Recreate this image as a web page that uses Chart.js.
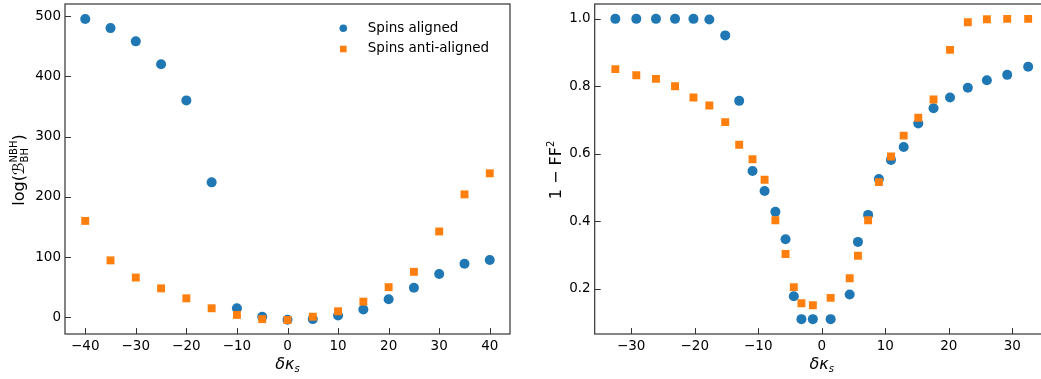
<!DOCTYPE html>
<html>
<head>
<meta charset="utf-8">
<script src="https://cdn.jsdelivr.net/npm/chart.js@4/dist/chart.umd.min.js"></script>
<style>
  html, body { margin: 0; padding: 0; background: #fff; overflow: hidden; }
  #page { position: relative; width: 1041px; height: 379px; overflow: hidden; }
  .box { position: absolute; top: 0; height: 379px; }
  #leftBox { left: 0; width: 520px; }
  #rightBox { left: 520px; width: 540px; }
</style>
</head>
<body>
<div id="page">
  <div class="box" id="leftBox"><canvas id="bfChart"></canvas></div>
  <div class="box" id="rightBox"><canvas id="ffChart"></canvas></div>
</div>
<script>
//Bayes factor vs delta kappa_s (left) and mismatch 1 - FF^2 (right)

Chart.defaults.font.family = "DejaVu Sans";
Chart.defaults.font.size = 13.5;
Chart.defaults.color = "#000";

const BLUE = "#1f77b4";
const ORANGE = "#ff7f0e";

const seriesNames = ["Spins aligned", "Spins anti-aligned"];

// left panel data
const bfShifts = [-40, -35, -30, -25, -20, -15, -10, -5, 0, 5, 10, 15, 20, 25, 30, 35, 40];
const bfAligned = [495, 480, 458, 420, 360, 224, 15, 1, -4, -3, 3, 13, 30, 49, 72, 89, 95];
const bfAnti = [160, 94.5, 66, 48, 31.5, 15, 4, -3, -4.5, 1, 10, 26, 50, 75.5, 142.5, 204, 239];
const bfXTicks = [-40, -30, -20, -10, 0, 10, 20, 30, 40];
const bfYTicks = [0, 100, 200, 300, 400, 500];

// right panel data
const ffShifts = [
    -32.5, -29.2, -26.1, -23.1, -20.2, -17.7, -15.2, -13.0, -10.9, -9.0, -7.3, -5.7, -4.4, -3.2, -1.4,
    1.4, 4.4, 5.7, 7.3, 9.0, 10.9, 12.9, 15.2, 17.6, 20.2, 23.0, 26.0, 29.2, 32.5,
];
const ffAligned = [
    1, 1, 1, 1, 1, 0.998, 0.951, 0.757, 0.549, 0.49, 0.428, 0.347, 0.178, 0.11, 0.11,
    0.11, 0.183, 0.339, 0.419, 0.525, 0.582, 0.62, 0.69, 0.735, 0.767, 0.796, 0.818, 0.834, 0.858,
];
const ffAnti = [
    0.851, 0.833, 0.822, 0.8, 0.767, 0.743, 0.694, 0.627, 0.584, 0.523, 0.403, 0.303, 0.205, 0.157, 0.151,
    0.173, 0.231, 0.298, 0.403, 0.516, 0.592, 0.654, 0.707, 0.761, 0.908, 0.99, 0.999, 1, 1,
];
const ffXTicks = [-30, -20, -10, 0, 10, 20, 30];
const ffYTicks = [0.2, 0.4, 0.6, 0.8, 1.0];

function points(xs, ys) {
    return xs.map((x, i) => ({ x: x, y: ys[i] }));
}

function minus(v) {
    return String(v).replace("-", "\u2212");
}

// draws a label made of pieces (normal, italic, super/subscript)
function richText(ctx, parts, x, y, angle) {
    let total = 0;
    parts.forEach((p) => {
        ctx.font = p.font;
        p.w = ctx.measureText(p.text).width;
        if (p.sub) p.w = Math.max(p.w, ctx.measureText(p.sub).width);
        total += p.w;
    });
    ctx.save();
    ctx.translate(x, y);
    ctx.rotate(angle);
    ctx.fillStyle = "#000";
    ctx.textBaseline = "alphabetic";
    let cur = -total / 2;
    parts.forEach((p) => {
        ctx.font = p.font;
        ctx.fillText(p.text, cur, p.dy || 0);
        if (p.sub) ctx.fillText(p.sub, cur, p.subDy);
        cur += p.w;
    });
    ctx.restore();
}

// box around the plot + inward tick marks + axis labels + legend
const framePlugin = {
    id: "frame",
    afterDraw(chart, args, opts) {
        const { ctx, chartArea: a, scales } = chart;
        ctx.save();
        ctx.strokeStyle = "#333";
        ctx.lineWidth = 1.2;
        ctx.strokeRect(a.left, a.top, a.right - a.left, a.bottom - a.top);
        ctx.lineWidth = 1;
        ctx.beginPath();
        scales.x.ticks.forEach((t) => {
            const px = Math.round(scales.x.getPixelForValue(t.value)) + 0.5;
            ctx.moveTo(px, a.bottom);
            ctx.lineTo(px, a.bottom - 6);
        });
        scales.y.ticks.forEach((t) => {
            const py = Math.round(scales.y.getPixelForValue(t.value)) + 0.5;
            ctx.moveTo(a.left, py);
            ctx.lineTo(a.left + 6, py);
        });
        ctx.stroke();
        ctx.restore();

        richText(ctx, opts.xLabel, (a.left + a.right) / 2 + (opts.xShift || 0), 369, 0);
        richText(ctx, opts.yLabel, opts.yLabelX, 170, -Math.PI / 2);

        if (opts.legend) {
            const lg = opts.legend;
            ctx.save();
            ctx.font = "13.5px DejaVu Sans";
            ctx.textBaseline = "middle";
            ctx.fillStyle = BLUE;
            ctx.beginPath();
            ctx.arc(lg.x, lg.y, 3.8, 0, Math.PI * 2);
            ctx.fill();
            ctx.fillStyle = ORANGE;
            ctx.fillRect(lg.x - 3.3, lg.y + 20.7 - 3.3, 6.6, 6.6);
            ctx.fillStyle = "#000";
            ctx.fillText(seriesNames[0], lg.x + 24.5, lg.y);
            ctx.fillText(seriesNames[1], lg.x + 24.5, lg.y + 20.5);
            ctx.restore();
        }
    },
};

// fixed axis sizes, and no extra room for half tick labels
function fixSize(s, key, size) {
    s[key] = size;
    s.paddingTop = 0;
    s.paddingBottom = 0;
    s.paddingLeft = 0;
    s.paddingRight = 0;
}

function makeScales(xMin, xMax, yMin, yMax, xTicks, yTicks, yWidth, yFmt) {
    return {
        x: {
            type: "linear",
            min: xMin,
            max: xMax,
            grid: { display: false, drawTicks: false },
            border: { display: false },
            afterBuildTicks: (s) => { s.ticks = xTicks.map((v) => ({ value: v })); },
            afterFit: (s) => fixSize(s, "height", 45),
            ticks: { padding: 4, maxRotation: 0, autoSkip: false, callback: (v) => minus(v) },
        },
        y: {
            type: "linear",
            min: yMin,
            max: yMax,
            grid: { display: false, drawTicks: false },
            border: { display: false },
            afterBuildTicks: (s) => { s.ticks = yTicks.map((v) => ({ value: v })); },
            afterFit: (s) => fixSize(s, "width", yWidth),
            ticks: { padding: 4, autoSkip: false, callback: yFmt },
        },
    };
}

const small = "10px DejaVu Sans";
const big = "16px DejaVu Sans";
const kappaLabel = [
    { text: "\u03b4\u03ba", font: "italic " + big },
    { text: "s", font: "italic " + small, dy: 3 },
];

//config left
const config1 = {
    type: "scatter",
    data: {
        datasets: [
            {
                label: seriesNames[0],
                data: points(bfShifts, bfAligned),
                backgroundColor: BLUE,
                pointStyle: "circle",
                pointRadius: 5,
                pointBorderWidth: 0,
                order: 2,
            },
            {
                label: seriesNames[1],
                data: points(bfShifts, bfAnti),
                backgroundColor: ORANGE,
                pointStyle: "rect",
                pointRadius: 5.6,
                pointBorderWidth: 0,
                order: 1,
            },
        ],
    },
    options: {
        animation: false,
        responsive: true,
        maintainAspectRatio: false,
        layout: { autoPadding: false, padding: { left: 0, right: 10, top: 4, bottom: 0 } },
        scales: makeScales(-44, 44, -27.7, 520, bfXTicks, bfYTicks, 65, (v) => minus(v)),
        plugins: {
            legend: { display: false },
            tooltip: { enabled: false },
            frame: {
                xLabel: kappaLabel,
                yLabel: [
                    { text: "log(", font: big, dy: 6 },
                    { text: "\u212c", font: "italic " + big, dy: 6 },
                    { text: "NBH", font: small, dy: -1, sub: "BH", subDy: 10 },
                    { text: ")", font: big, dy: 6 },
                ],
                yLabelX: 18,
                legend: { x: 343.3, y: 28.3 },
            },
        },
    },
    plugins: [framePlugin],
};

//config right
const config2 = {
    type: "scatter",
    data: {
        datasets: [
            {
                label: seriesNames[0],
                data: points(ffShifts, ffAligned),
                backgroundColor: BLUE,
                pointStyle: "circle",
                pointRadius: 5,
                pointBorderWidth: 0,
                order: 2,
            },
            {
                label: seriesNames[1],
                data: points(ffShifts, ffAnti),
                backgroundColor: ORANGE,
                pointStyle: "rect",
                pointRadius: 5.6,
                pointBorderWidth: 0,
                order: 1,
            },
        ],
    },
    options: {
        animation: false,
        responsive: true,
        maintainAspectRatio: false,
        layout: { autoPadding: false, padding: { left: 0, right: 11.2, top: 4, bottom: 0 } },
        scales: makeScales(-35.75, 35.75, 0.066, 1.044, ffXTicks, ffYTicks, 74.7, (v) => v.toFixed(1)),
        plugins: {
            legend: { display: false },
            tooltip: { enabled: false },
            frame: {
                xLabel: kappaLabel,
                yLabel: [
                    { text: "1 \u2212 FF", font: big, dy: 6 },
                    { text: "2", font: small, dy: -1 },
                ],
                yLabelX: 35,
            },
        },
    },
    plugins: [framePlugin],
};

//render init block
const bfChart = new Chart(document.getElementById("bfChart").getContext("2d"), config1);
const ffChart = new Chart(document.getElementById("ffChart").getContext("2d"), config2);
</script>
</body>
</html>
